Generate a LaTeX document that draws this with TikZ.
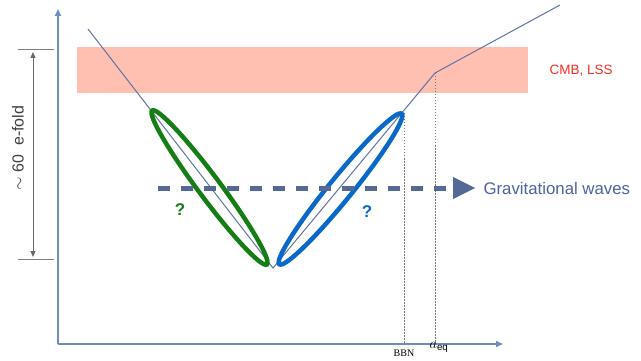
\documentclass[tikz,border=0pt]{standalone}
\usepackage{fontspec}
\setmainfont{Liberation Sans}
\newfontfamily\serifft{Liberation Serif}
\usetikzlibrary{shapes.geometric,arrows.meta}
\definecolor{axisblue}{RGB}{110,140,190}
\definecolor{curveblue}{RGB}{95,115,165}
\definecolor{bandpink}{RGB}{255,192,178}
\definecolor{ggreen}{RGB}{20,125,20}
\definecolor{bblue}{RGB}{10,105,200}
\definecolor{gwblue}{RGB}{85,105,150}
\definecolor{gwtext}{RGB}{75,100,160}
\definecolor{cmbred}{RGB}{250,45,30}
\definecolor{dotgray}{RGB}{120,120,120}
\tikzset{
  axisline/.style={draw=axisblue, line width=2pt, -{Triangle[length=7pt,width=6pt]}},
  band/.style={fill=bandpink, draw=none},
  curve/.style={draw=curveblue, line width=1pt},
  oval/.style={ellipse, draw, line width=4.5pt, inner sep=0pt, outer sep=0pt},
  guide/.style={draw=dotgray, line width=0.9pt, dash pattern=on 1.5pt off 1.5pt},
  qmark/.style={font=\bfseries\fontsize{17}{17}\selectfont},
}
\begin{document}
\begin{tikzpicture}[x=1pt,y=-1pt]
\useasboundingbox (0,0) rectangle (641,361);
% band
\fill[band] (77,47) rectangle (528,93);
\node[text=cmbred, font=\fontsize{13.5}{14}\selectfont, anchor=west] (cmb) at (546,71) {CMB, LSS};
% axes
\coordinate (O) at (58,344);
\coordinate (Ytop) at (58,9);
\coordinate (Xend) at (503,344);
\draw[axisline] (O) -- (Ytop);
\draw[axisline] (O) -- (Xend);
% guides
\coordinate (bbnTop) at (404,113);
\coordinate (bbnBot) at (404,344);
\coordinate (eqTop) at (435,73);
\coordinate (eqBot) at (435,344);
\draw[guide] (bbnTop) -- (bbnBot);
\draw[guide] (eqTop) -- (eqBot);
\node[font=\serifft\fontsize{10}{10}\selectfont, anchor=north] (bbn) at (404,346) {BBN};
\node[font=\fontsize{14}{14}\selectfont, anchor=north] (aeq) at (439,339) {$a_{\mathrm{eq}}$};
% curve
\coordinate (L0) at (88,29);
\coordinate (B) at (273,268);
\coordinate (K) at (435,73);
\coordinate (R0) at (560,5);
\draw[curve] (L0) -- (B) -- (K) -- (R0);
% ellipses
\node[oval, draw=ggreen, minimum width=192pt, minimum height=22pt, rotate=-53.3] (gell) at (209.5,187.5) {};
\node[oval, draw=bblue, minimum width=194pt, minimum height=23pt, rotate=50.9] (bell) at (340.5,189) {};
\node[qmark, text=ggreen] (gq) at (180,210) {?};
\node[qmark, text=bblue] (bq) at (367,212) {?};
% gravitational waves arrow
\coordinate (gwS) at (158,188);
\coordinate (gwE) at (453,188);
\draw[gwblue, line width=5pt, dash pattern=on 12pt off 11pt] (gwS) -- (gwE);
\fill[gwblue] (453,177) -- (475,188) -- (453,199) -- cycle;
\node[text=gwtext, font=\fontsize{16.8}{17}\selectfont, anchor=west] (gw) at (480,188) {Gravitational waves};
% e-fold
\coordinate (t1a) at (18,50);
\coordinate (t1b) at (54,50);
\coordinate (t2a) at (18,259);
\coordinate (t2b) at (54,259);
\draw[gray, line width=1pt] (t1a) -- (t1b);
\draw[gray, line width=1pt] (t2a) -- (t2b);
\coordinate (ea) at (33,52);
\coordinate (eb) at (33,257);
\draw[gray!80!black, line width=1pt, {Triangle[length=6pt,width=5pt]}-{Triangle[length=6pt,width=5pt]}] (ea) -- (eb);
\node[rotate=90, text=black!75, font=\fontsize{16}{16}\selectfont] (efold) at (18,148) {$\sim$ 60\ \ e-fold};
\end{tikzpicture}
\end{document}
